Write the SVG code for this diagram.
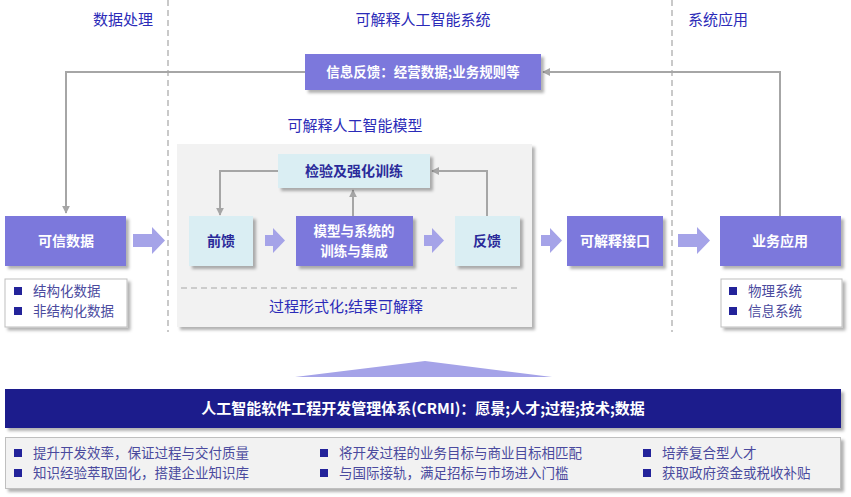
<svg xmlns="http://www.w3.org/2000/svg" width="851" height="497" viewBox="0 0 851 497">
<defs>
<filter id="sh" x="-10%" y="-10%" width="130%" height="140%">
<feDropShadow dx="3" dy="3" stdDeviation="1.5" flood-color="#000" flood-opacity="0.3"/>
</filter>
<marker id="ah" viewBox="0 0 10 10" refX="9" refY="5" markerWidth="8" markerHeight="8" markerUnits="userSpaceOnUse" orient="auto">
<path d="M0,0 L10,5 L0,10 z" fill="#a6a6a6"/>
</marker>
<style>
.hd{font-family:"Noto Sans CJK SC",sans-serif;font-size:15px;fill:#2b2bb8;text-anchor:middle}
.pn{fill:#7b78dc;filter:url(#sh)}
.lc{fill:#daeef3;filter:url(#sh)}
.wt{font-family:"Noto Sans CJK SC",sans-serif;font-size:14px;font-weight:bold;fill:#fff;text-anchor:middle}
.dt{font-family:"Noto Sans CJK SC",sans-serif;font-size:14px;font-weight:bold;fill:#2a2a9a;text-anchor:middle}
.bl{font-family:"Noto Sans CJK SC",sans-serif;font-size:13.5px;fill:#4a4a9e}
.sq{fill:#23239a}
.ln{fill:none;stroke:#a6a6a6;stroke-width:2}
.ba{fill:#a5a3e8}
.dv{stroke:#a6a6a6;stroke-width:1.2;stroke-dasharray:6 4}
</style>
</defs>
<rect width="851" height="497" fill="#fff"/>
<g id="dividers">
<line class="dv" x1="168" y1="0" x2="168" y2="332"/>
<line class="dv" x1="672" y1="0" x2="672" y2="332"/>
</g>
<g id="headers">
<text class="hd" x="123" y="25">数据处理</text>
<text class="hd" x="423" y="25">可解释人工智能系统</text>
<text class="hd" x="718" y="25">系统应用</text>
</g>
<g id="panel">
<rect x="177" y="144" width="355" height="183" fill="#f2f2f2" filter="url(#sh)"/>
<line class="dv" x1="181" y1="288" x2="518" y2="288"/>
<text class="hd" x="346" y="312">过程形式化;结果可解释</text>
<text class="hd" x="355" y="131">可解释人工智能模型</text>
</g>
<g id="connectors">
<polyline class="ln" points="305,72 66,72 66,213" marker-end="url(#ah)"/>
<polyline class="ln" points="780,216 780,72 543,72" marker-end="url(#ah)"/>
<polyline class="ln" points="278,171 220,171 220,215" marker-end="url(#ah)"/>
<polyline class="ln" points="487,216 487,171 432,171" marker-end="url(#ah)"/>
<polyline class="ln" points="353,216 353,190" marker-end="url(#ah)"/>
<polygon class="ba" points="133,234 152,234 152,227 165,240.5 152,254 152,247 133,247"/>
<polygon class="ba" points="265,235 273,235 273,228 285,240.5 273,253 273,246 265,246"/>
<polygon class="ba" points="424,235 432,235 432,228 444,240.5 432,253 432,246 424,246"/>
<polygon class="ba" points="541,235 550,235 550,228 562,240.5 550,253 550,246 541,246"/>
<polygon class="ba" points="678,234 697,234 697,227 710,240.5 697,254 697,247 678,247"/>
</g>
<g id="feedback">
<rect class="pn" x="305" y="54" width="236" height="36"/>
<text class="wt" x="423" y="77" style="font-size:13.5px">信息反馈：经营数据;业务规则等</text>
</g>
<g id="trusted">
<rect class="pn" x="5" y="216" width="121" height="50"/>
<text class="wt" x="66" y="246">可信数据</text>
</g>
<g id="trusted-list">
<rect x="5" y="279" width="122" height="48" fill="#fff" stroke="#bfbfbf" filter="url(#sh)"/>
<rect class="sq" x="14" y="287" width="8" height="8"/>
<rect class="sq" x="14" y="307" width="8" height="8"/>
<text class="bl" x="33" y="296">结构化数据</text>
<text class="bl" x="33" y="316">非结构化数据</text>
</g>
<g id="check">
<rect class="lc" x="278" y="154" width="152" height="34"/>
<text class="dt" x="354" y="176">检验及强化训练</text>
</g>
<g id="forward">
<rect class="lc" x="189" y="216" width="64" height="50"/>
<text class="dt" x="221" y="246">前馈</text>
</g>
<g id="model">
<rect class="pn" x="296" y="216" width="117" height="50"/>
<text class="wt" x="354" y="236" style="font-size:13.5px">模型与系统的</text>
<text class="wt" x="354" y="256" style="font-size:13.5px">训练与集成</text>
</g>
<g id="back">
<rect class="lc" x="455" y="216" width="65" height="50"/>
<text class="dt" x="487" y="246">反馈</text>
</g>
<g id="interface">
<rect class="pn" x="567" y="216" width="96" height="50"/>
<text class="wt" x="615" y="246">可解释接口</text>
</g>
<g id="business">
<rect class="pn" x="720" y="216" width="121" height="50"/>
<text class="wt" x="780" y="246">业务应用</text>
</g>
<g id="business-list">
<rect x="721" y="279" width="121" height="48" fill="#fff" stroke="#bfbfbf" filter="url(#sh)"/>
<rect class="sq" x="729" y="287" width="8" height="8"/>
<rect class="sq" x="729" y="307" width="8" height="8"/>
<text class="bl" x="748" y="296">物理系统</text>
<text class="bl" x="748" y="316">信息系统</text>
</g>
<g id="triangle">
<polygon class="ba" points="295,377 425,361 552,377"/>
</g>
<g id="crmi">
<rect x="5" y="389" width="836" height="39" fill="#1e1a8c" filter="url(#sh)"/>
<text class="wt" x="423" y="414" style="font-size:15px">人工智能软件工程开发管理体系(CRMI)：愿景;人才;过程;技术;数据</text>
</g>
<g id="goals">
<rect x="5.5" y="437.5" width="835" height="51" fill="#f2f2f2" stroke="#bfbfbf" filter="url(#sh)"/>
<rect class="sq" x="14" y="449" width="8" height="8"/>
<rect class="sq" x="14" y="469" width="8" height="8"/>
<text class="bl" x="33" y="458">提升开发效率，保证过程与交付质量</text>
<text class="bl" x="33" y="478">知识经验萃取固化，搭建企业知识库</text>
<rect class="sq" x="320" y="449" width="8" height="8"/>
<rect class="sq" x="320" y="469" width="8" height="8"/>
<text class="bl" x="339" y="458">将开发过程的业务目标与商业目标相匹配</text>
<text class="bl" x="339" y="478">与国际接轨，满足招标与市场进入门槛</text>
<rect class="sq" x="643" y="449" width="8" height="8"/>
<rect class="sq" x="643" y="469" width="8" height="8"/>
<text class="bl" x="662" y="458">培养复合型人才</text>
<text class="bl" x="662" y="478">获取政府资金或税收补贴</text>
</g>
</svg>
